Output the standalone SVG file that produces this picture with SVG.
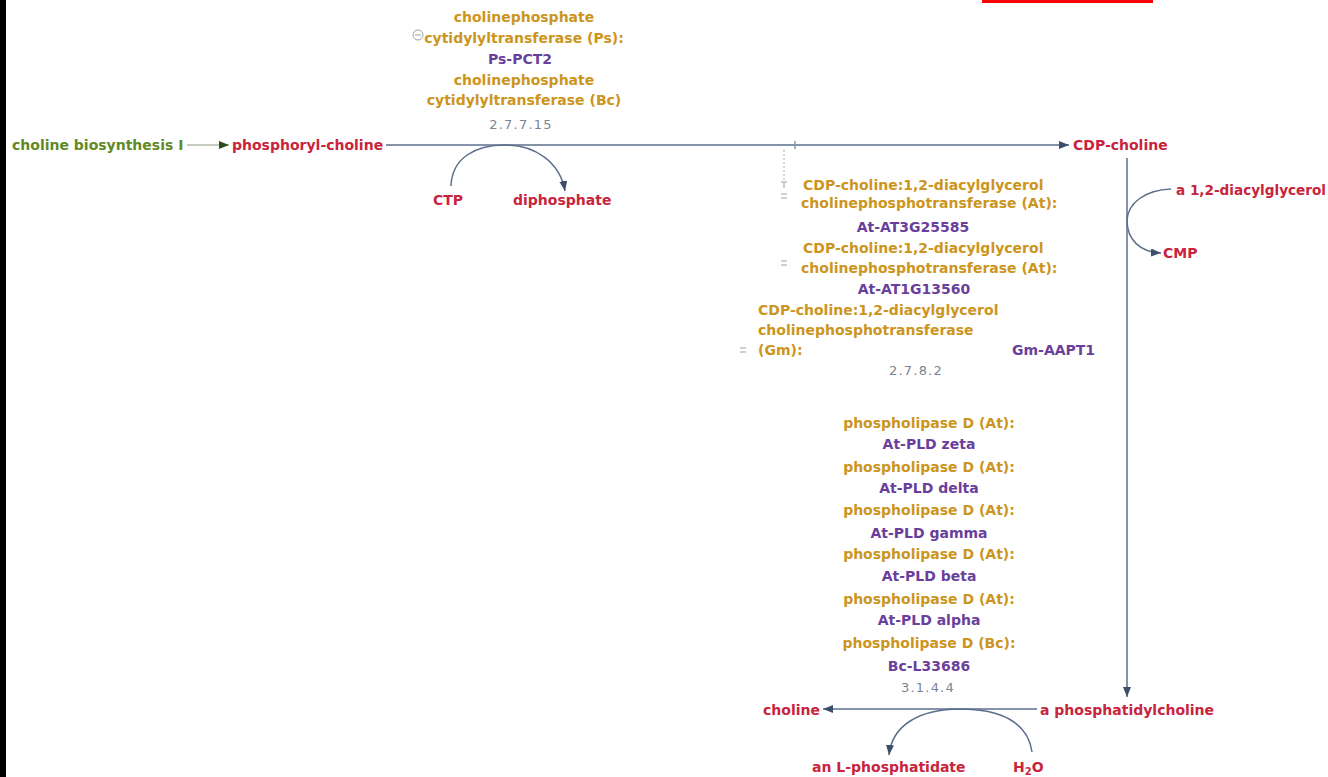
<svg xmlns="http://www.w3.org/2000/svg" width="1328" height="777" viewBox="0 0 1328 777">
<style>
text{font-family:"DejaVu Sans","Liberation Sans",sans-serif;font-size:14px;font-weight:bold}
.cpd{fill:#c8243c}
.enz{fill:#cc9520}
.gene{fill:#6a3f9c}
.ec{fill:#7a8594;font-weight:normal;font-size:13px;letter-spacing:1.2px}
.pw{fill:#5f8a26}
.ln{fill:none;stroke:#5b6f8c;stroke-width:1.5}
.tog{fill:none;stroke:#9aa3ae;stroke-width:1}
.c{text-anchor:middle}
</style>
<defs>
<marker id="ah" markerWidth="10" markerHeight="8" refX="10" refY="4" orient="auto" markerUnits="userSpaceOnUse">
<path d="M0,0 L10,4 L0,8 z" fill="#3d4f68"/>
</marker>
<marker id="ahg" markerWidth="10" markerHeight="8" refX="10" refY="4" orient="auto" markerUnits="userSpaceOnUse">
<path d="M0,0 L10,4 L0,8 z" fill="#2f4a1e"/>
</marker>
</defs>
<rect width="1328" height="777" fill="#ffffff"/>
<rect x="0" y="0" width="6" height="777" fill="#000000"/>
<rect x="982" y="0" width="171" height="3" fill="#ff0000"/>

<g id="connectors">
<line x1="187" y1="145" x2="229" y2="145" stroke="#8a9a80" stroke-width="1" marker-end="url(#ahg)"/>
<line class="ln" x1="386" y1="145" x2="1069" y2="145" marker-end="url(#ah)"/>
<line x1="795" y1="141" x2="795" y2="149" stroke="#8a9aae" stroke-width="1.5"/>
<path class="ln" d="M451 186 C452 158 475 145 505 145 C535 145 560 162 565 191" marker-end="url(#ah)"/>
<line x1="1127" y1="158" x2="1127" y2="697" class="ln" marker-end="url(#ah)"/>
<path class="ln" d="M1171 189 C1145 190 1128 203 1127 220 C1127 240 1140 252 1161 253" marker-end="url(#ah)"/>
<line class="ln" x1="1037" y1="709" x2="823" y2="709" marker-end="url(#ah)"/>
<path class="ln" d="M1032 752 C1028 722 1000 709 960 709 C920 709 892 725 889 755" marker-end="url(#ah)"/>
<line x1="784" y1="150" x2="784" y2="182" stroke="#a8b0ba" stroke-width="1" stroke-dasharray="2,2"/>
</g>

<g id="choline-biosynthesis-I">
<text class="pw" x="12" y="150">choline biosynthesis I</text>
</g>
<g id="phosphoryl-choline">
<text class="cpd" x="232" y="150">phosphoryl-choline</text>
</g>
<g id="CTP">
<text class="cpd" x="433" y="205">CTP</text>
</g>
<g id="diphosphate">
<text class="cpd" x="513" y="205">diphosphate</text>
</g>
<g id="CDP-choline">
<text class="cpd" x="1073" y="150">CDP-choline</text>
</g>
<g id="diacylglycerol">
<text class="cpd" x="1176" y="195" textLength="150" lengthAdjust="spacingAndGlyphs">a 1,2-diacylglycerol</text>
</g>
<g id="CMP">
<text class="cpd" x="1163" y="258">CMP</text>
</g>
<g id="phosphatidylcholine">
<text class="cpd" x="1040" y="715">a phosphatidylcholine</text>
</g>
<g id="choline">
<text class="cpd" x="763" y="715">choline</text>
</g>
<g id="phosphatidate">
<text class="cpd" x="812" y="772">an L-phosphatidate</text>
</g>
<g id="H2O">
<text class="cpd" x="1013" y="772">H<tspan font-size="10" dy="3">2</tspan><tspan dy="-3">O</tspan></text>
</g>

<g id="enzyme-2.7.7.15">
<circle class="tog" cx="418" cy="35" r="5"/>
<line class="tog" x1="415" y1="35" x2="421" y2="35"/>
<text class="enz c" x="524" y="22">cholinephosphate</text>
<text class="enz c" x="524" y="43">cytidylyltransferase (Ps):</text>
<text class="gene c" x="520" y="64">Ps-PCT2</text>
<text class="enz c" x="524" y="85">cholinephosphate</text>
<text class="enz c" x="524" y="105">cytidylyltransferase (Bc)</text>
<text class="ec c" x="521" y="129">2.7.7.15</text>
</g>

<g id="enzyme-2.7.8.2">
<path class="tog" d="M781 182 L787 182 M784 182 L784 188"/>
<path class="tog" d="M781 194 L787 194 M781 198 L787 198"/>
<path class="tog" d="M781 261 L787 261 M781 265 L787 265"/>
<path class="tog" d="M740 348 L746 348 M740 352 L746 352"/>
<text class="enz" x="803" y="190">CDP-choline:1,2-diacylglycerol</text>
<text class="enz" x="801" y="208">cholinephosphotransferase (At):</text>
<text class="gene c" x="913" y="232">At-AT3G25585</text>
<text class="enz" x="803" y="253">CDP-choline:1,2-diacylglycerol</text>
<text class="enz" x="801" y="273">cholinephosphotransferase (At):</text>
<text class="gene c" x="914" y="294">At-AT1G13560</text>
<text class="enz" x="758" y="315">CDP-choline:1,2-diacylglycerol</text>
<text class="enz" x="758" y="335">cholinephosphotransferase</text>
<text class="enz" x="758" y="355">(Gm):</text>
<text class="gene" x="1012" y="355">Gm-AAPT1</text>
<text class="ec c" x="916" y="375">2.7.8.2</text>
</g>

<g id="enzyme-3.1.4.4">
<text class="enz c" x="929" y="428">phospholipase D (At):</text>
<text class="gene c" x="929" y="449">At-PLD zeta</text>
<text class="enz c" x="929" y="472">phospholipase D (At):</text>
<text class="gene c" x="929" y="493">At-PLD delta</text>
<text class="enz c" x="929" y="515">phospholipase D (At):</text>
<text class="gene c" x="929" y="538">At-PLD gamma</text>
<text class="enz c" x="929" y="559">phospholipase D (At):</text>
<text class="gene c" x="929" y="581">At-PLD beta</text>
<text class="enz c" x="929" y="604">phospholipase D (At):</text>
<text class="gene c" x="929" y="625">At-PLD alpha</text>
<text class="enz c" x="929" y="648">phospholipase D (Bc):</text>
<text class="gene c" x="929" y="671">Bc-L33686</text>
<text class="ec c" x="928" y="692">3.1.4.4</text>
</g>
</svg>
